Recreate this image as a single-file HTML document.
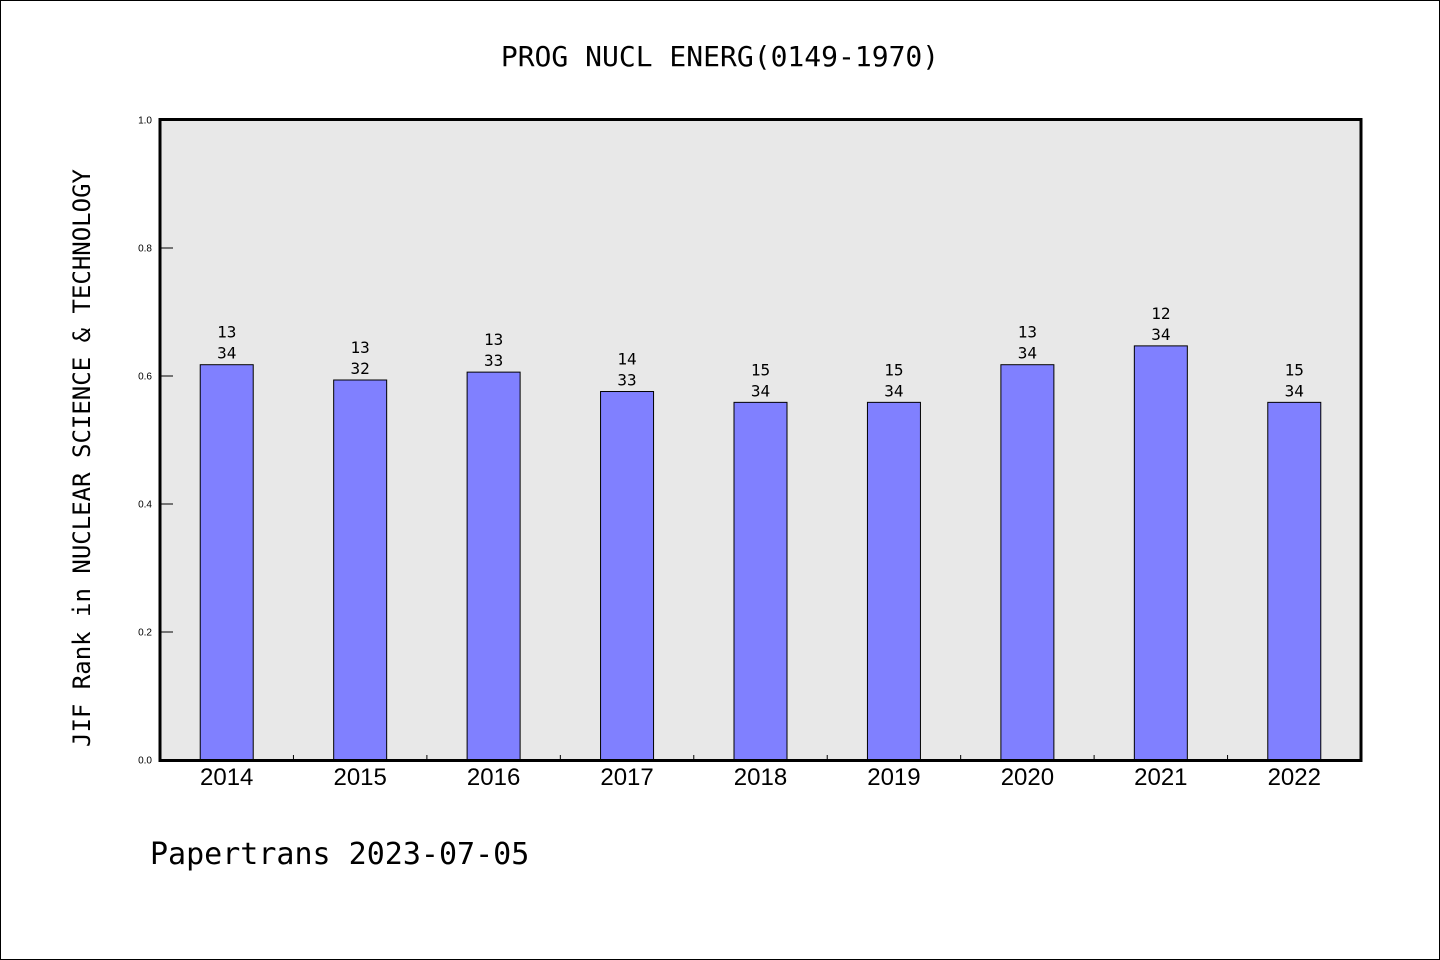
<!DOCTYPE html>
<html><head><meta charset="utf-8"><style>
body{margin:0;background:#fff;}
svg{display:block;font-family:"DejaVu Sans Mono","Liberation Mono",monospace;}
</style></head><body>
<svg id="chart" width="1440" height="960" viewBox="0 0 1440 960">
<rect x="0.5" y="0.5" width="1439" height="959" fill="#fff" stroke="#000" stroke-width="1"/>
<text x="720" y="66" font-size="28" text-anchor="middle">PROG NUCL ENERG(0149-1970)</text>
<rect x="160" y="119" width="1201" height="642" fill="#e8e8e8"/>
<g id="bars"></g>
<g id="axes"></g>
<rect x="160" y="119.5" width="1201" height="641" fill="none" stroke="#000" stroke-width="3"/>
<text transform="translate(90,458) rotate(-90)" font-size="24" text-anchor="middle">JIF Rank in NUCLEAR SCIENCE &amp; TECHNOLOGY</text>
<text x="150" y="864" font-size="30">Papertrans 2023-07-05</text>
</svg>
<script>
const years=["2014","2015","2016","2017","2018","2019","2020","2021","2022"];
const ranks=[13,13,13,14,15,15,13,12,15];
const totals=[34,32,33,33,34,34,34,34,34];
const yTicks=[0,0.2,0.4,0.6,0.8,1.0];
const NS="http://www.w3.org/2000/svg";
const x0=160,x1=1361,yb=760,yt=120;
const step=(x1-x0)/years.length;
const xs=i=>x0+step*(i+0.5);
const ys=v=>yb-(yb-yt)*v;
function mk(t,a,p){const e=document.createElementNS(NS,t);for(const k in a)e.setAttribute(k,a[k]);p.appendChild(e);return e;}
const bars=document.getElementById('bars'),axes=document.getElementById('axes');
years.forEach((y,i)=>{
 const v=(totals[i]-ranks[i])/totals[i];
 const cx=xs(i);
 const r=mk('rect',{x:cx-26.5,y:ys(v),width:53,height:yb-ys(v),fill:'#8080ff',stroke:'#000','stroke-width':1},bars);
 
 
 const t1=mk('text',{x:cx,y:ys(v)-27,'font-size':16,'text-anchor':'middle'},bars);t1.textContent=ranks[i];
 
 
 const t2=mk('text',{x:cx,y:ys(v)-6,'font-size':16,'text-anchor':'middle'},bars);t2.textContent=totals[i];
 
 
 const xl=mk('text',{x:cx,y:785,'font-size':24,'text-anchor':'middle','font-family':'Liberation Sans, sans-serif'},axes);xl.textContent=y;
 
 
 if(i>0){const tk=mk('line',{x1:x0+step*i,x2:x0+step*i,y1:755,y2:760,stroke:'#000'},axes);
 
 }
});
yTicks.forEach(v=>{
 const tk=mk('line',{x1:161,x2:173,y1:ys(v),y2:ys(v),stroke:'#000'},axes);
 
 
 const l=mk('text',{x:152,y:ys(v)+3.5,'font-size':10,'text-anchor':'end','font-family':'Liberation Sans, sans-serif'},axes);l.textContent=v.toFixed(1);
 
 
});
</script>
</body></html>
